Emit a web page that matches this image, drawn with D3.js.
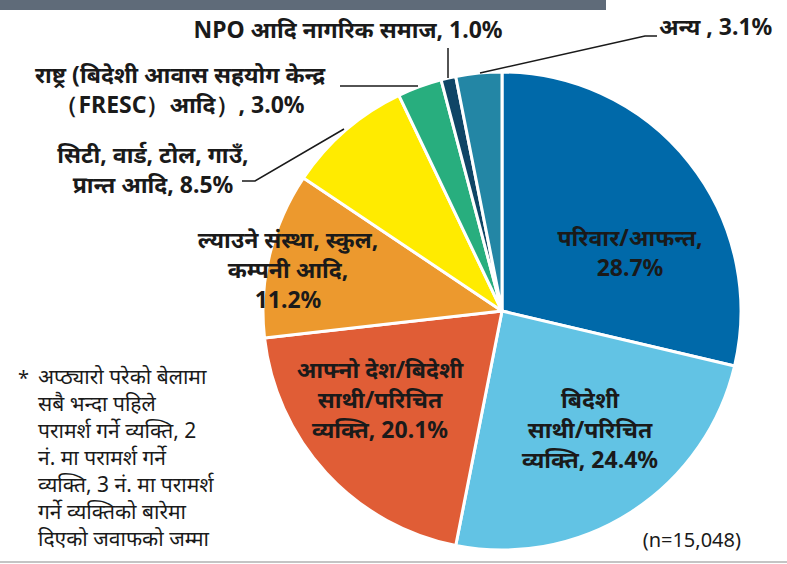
<!DOCTYPE html>
<html>
<head>
<meta charset="utf-8">
<script src="https://cdn.jsdelivr.net/npm/d3@7"></script>
<style>
  body { margin: 0; background: #fff; }
  text { font-family: "Noto Sans", "Noto Sans Devanagari", sans-serif; fill: #1a1a1a; }
</style>
</head>
<body>
<script>
var w = 787;
var h = 564;

// slice data, clockwise from 12 o'clock
var categories = ["परिवार/आफन्त", "बिदेशी साथी/परिचित व्यक्ति", "आफ्नो देश/बिदेशी साथी/परिचित व्यक्ति",
  "ल्याउने संस्था, स्कुल, कम्पनी आदि", "सिटी, वार्ड, टोल, गाउँ, प्रान्त आदि",
  "राष्ट्र (बिदेशी आवास सहयोग केन्द्र (FRESC) आदि)", "NPO आदि नागरिक समाज", "अन्य"];
var values = [28.7, 24.4, 20.1, 11.2, 8.5, 3.0, 1.0, 3.1];
var colors = ["#0069a9", "#62c3e4", "#e05d36", "#ec992e", "#ffeb00", "#28ae7e", "#0f4566", "#2386a5"];

// label lines, {v} gets the percent
var labelLines = [
  ["परिवार/आफन्त,", "{v}"],
  ["बिदेशी", "साथी/परिचित", "व्यक्ति, {v}"],
  ["आफ्नो देश/बिदेशी", "साथी/परिचित", "व्यक्ति, {v}"],
  ["ल्याउने संस्था, स्कुल,", "कम्पनी आदि,", "{v}"],
  ["सिटी, वार्ड, टोल, गाउँ,", "प्रान्त आदि, {v}"],
  ["राष्ट्र (बिदेशी आवास सहयोग केन्द्र", "（FRESC）आदि）, {v}"],
  ["NPO आदि नागरिक समाज, {v}"],
  ["अन्य , {v}"]
];

var footnote = ["अप्ठ्यारो परेको बेलामा", "सबै भन्दा पहिले", "परामर्श गर्ने व्यक्ति, 2",
  "नं. मा परामर्श गर्ने", "व्यक्ति, 3 नं. मा परामर्श", "गर्ने व्यक्तिको बारेमा", "दिएको जवाफको जम्मा"];
var sampleNote = "(n=15,048)";

// layout for labels (x, first line y, anchor) and leader lines
var labelPos = [
  [630, 238, "middle"], [590, 400, "middle"], [380, 370, "middle"], [288, 240, "middle"],
  [153, 155, "middle"], [180, 75, "middle"], [348, 30, "middle"], [659, 27, "start"]
];
var leaders = [
  [[242, 181], [255, 181], [344, 129]],
  [[340, 86], [418, 86]],
  [[448, 48], [448, 78]],
  [[480, 73], [645, 36], [657, 36]]
];

var cx = 502, cy = 311, r = 239;

var svg = d3.select("body").append("svg")
  .attr("width", w)
  .attr("height", h);

// top gray bar and bottom rule
svg.append("rect").attr("x", 0).attr("y", 0).attr("width", 606).attr("height", 10).attr("fill", "#5f6b79");
svg.append("line").attr("x1", 0).attr("x2", w).attr("y1", 562).attr("y2", 562)
  .attr("stroke", "#b0b0b0").attr("stroke-width", 1.5);

var pie = d3.pie().sort(null).value(function(d) { return d; });
var arc = d3.arc().innerRadius(0).outerRadius(r);

var g = svg.append("g").attr("transform", "translate(" + cx + "," + cy + ")");
g.selectAll("path")
  .data(pie(values))
  .enter().append("path")
  .attr("d", arc)
  .attr("fill", function(d, i) { return colors[i]; })
  .attr("stroke", "#fff")
  .attr("stroke-width", 3)
  .attr("stroke-linejoin", "round");

// leader lines
var line = d3.line();
svg.selectAll(".leader")
  .data(leaders)
  .enter().append("path")
  .attr("class", "leader")
  .attr("d", line)
  .attr("fill", "none")
  .attr("stroke", "#1a1a1a")
  .attr("stroke-width", 1.5);

// slice labels
var fmt = d3.format(".1f");
labelLines.forEach(function(lines, i) {
  var t = svg.append("text")
    .attr("x", labelPos[i][0])
    .attr("y", labelPos[i][1])
    .attr("text-anchor", labelPos[i][2])
    .attr("font-size", "23px")
    .attr("font-weight", "bold");
  lines.forEach(function(l, j) {
    t.append("tspan")
      .attr("x", labelPos[i][0])
      .attr("y", labelPos[i][1] + j * 30)
      .attr("dy", "0.35em")
      .text(l.replace("{v}", fmt(values[i]) + "%"));
  });
});

// footnote
svg.append("text").attr("x", 18).attr("y", 378).attr("dy", "0.35em")
  .attr("font-size", "20px").text("*");
var fn = svg.append("text").attr("font-size", "21px");
footnote.forEach(function(l, j) {
  fn.append("tspan").attr("x", 38).attr("y", 377 + j * 27).attr("dy", "0.35em").text(l);
});

svg.append("text").attr("x", 741).attr("y", 540).attr("dy", "0.35em")
  .attr("text-anchor", "end").attr("font-size", "20px").text(sampleNote);
</script>
</body>
</html>
